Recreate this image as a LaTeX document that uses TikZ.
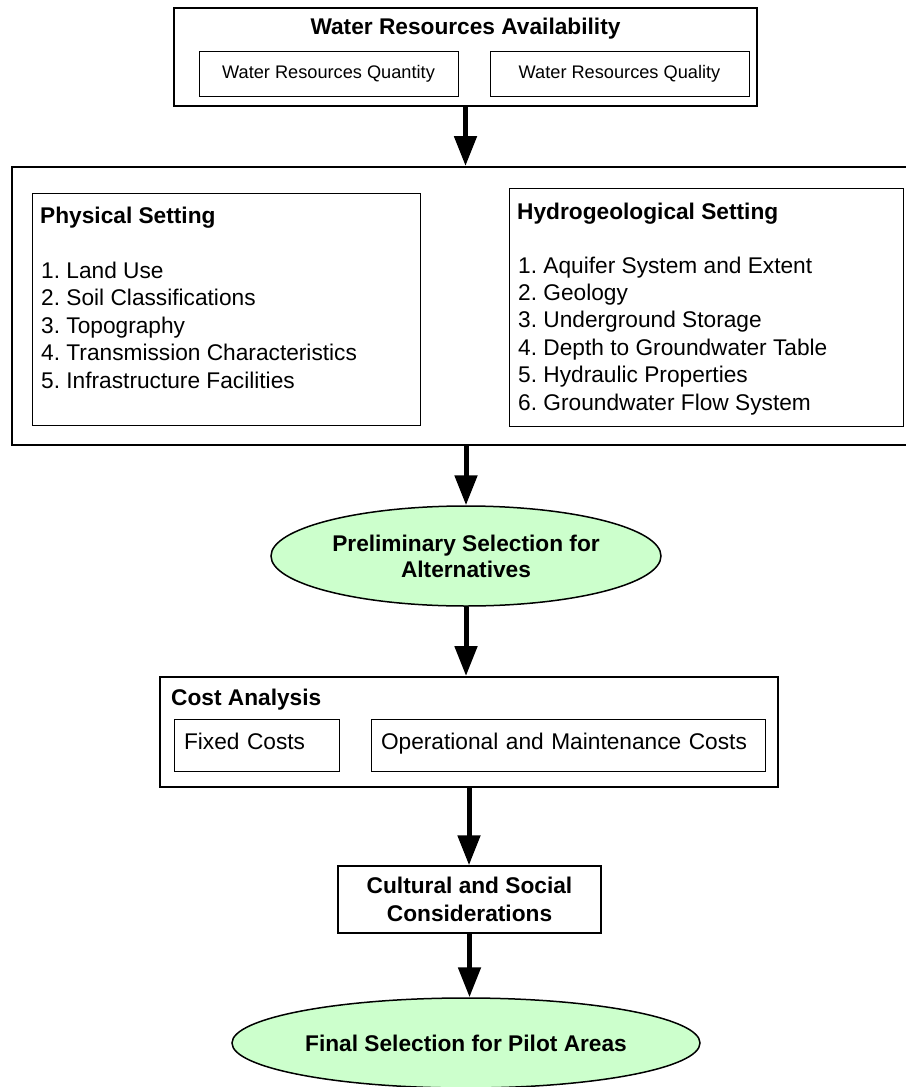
\documentclass[tikz,border=0pt]{standalone}
\usepackage{fontspec}
\setmainfont{Liberation Sans}
\usetikzlibrary{arrows.meta,shapes.geometric}

\definecolor{selgreen}{HTML}{CCFFCC}
\newcommand{\bigfont}{\fontsize{22.7pt}{27.5pt}\selectfont}
\newcommand{\smallfont}{\fontsize{18.2pt}{22pt}\selectfont}
\frenchspacing

\begin{document}
\begin{tikzpicture}[x=1pt, y=-1pt,
  every node/.style={font=\bigfont, inner sep=0pt},
  outerbox/.style={draw, line width=2pt},
  innerbox/.style={draw, line width=1pt},
  choice/.style={ellipse, draw, line width=1.5pt, fill=selgreen, align=center,
    font=\fontsize{22.7pt}{26pt}\selectfont\bfseries},
  head/.style={anchor=base west, font=\bigfont\bfseries},
  entry/.style={anchor=base west},
  costbox/.style={innerbox, minimum height=52pt, align=left, text height=18pt, text depth=10pt},
  flow/.style={line width=5pt, -{Triangle[length=30pt, width=22pt]}}]

\useasboundingbox (0,0) rectangle (905,1087);

% Water resources availability
\node[outerbox, minimum width=583pt, minimum height=98pt] (avail) at (465.5,57) {};
\node[font=\bigfont\bfseries] (availtitle) at (465.5,29) {Water Resources Availability};
\node[innerbox, minimum width=259pt, minimum height=45pt, font=\smallfont] (qty) at (328.5,73.5) {Water Resources Quantity};
\node[innerbox, minimum width=259pt, minimum height=45pt, font=\smallfont] (qual) at (619.5,73.5) {Water Resources Quality};

% Settings
\node[outerbox, minimum width=908pt, minimum height=278pt] (settings) at (466,306) {};
\node[innerbox, minimum width=388pt, minimum height=232pt] (phys) at (226,309) {};
\node[head] (physhead) at (40,223) {Physical Setting};
\foreach \entry [count=\i] in {Land Use, Soil Classifications, Topography,
    Transmission Characteristics, Infrastructure Facilities}
  \node[entry] (phys\i) at (41,{278+27.5*(\i-1)}) {\i. \entry};

\node[innerbox, minimum width=394pt, minimum height=238pt] (hyd) at (706,307) {};
\node[head] (hydhead) at (517,219) {Hydrogeological Setting};
\foreach \entry [count=\i] in {Aquifer System and Extent, Geology, Underground Storage,
    Depth to Groundwater Table, Hydraulic Properties, Groundwater Flow System}
  \node[entry] (hyd\i) at (518,{273+27.4*(\i-1)}) {\i. \entry};

% Preliminary selection
\node[choice, minimum width=390pt, minimum height=100pt] (prelim) at (466,556)
  {Preliminary Selection for\\Alternatives};

% Cost analysis
\node[outerbox, minimum width=618pt, minimum height=110pt] (cost) at (469,732) {};
\node[head] (costhead) at (171,705) {Cost Analysis};
\node[costbox, minimum width=165pt, text width=145pt] (fixed) at (256.5,745) {Fixed Costs};
\node[costbox, minimum width=394pt, text width=374pt] (om) at (568,745) {Operational and Maintenance Costs};

% Cultural and social
\node[draw, line width=1.5pt, minimum width=263pt, minimum height=67pt, align=center,
  font=\fontsize{22.7pt}{28pt}\selectfont\bfseries] (cultural) at (469.5,899.5)
  {Cultural and Social\\Considerations};

% Final selection
\node[choice, minimum width=468pt, minimum height=90pt] (final) at (466,1043)
  {Final Selection for Pilot Areas};

% Arrows
\draw[flow] (avail.south) -- (avail.south |- settings.north);
\draw[flow] (settings.south) -- (settings.south |- prelim.north);
\draw[flow] (prelim.south) -- (prelim.south |- cost.north);
\draw[flow] (cost.south) -- (cost.south |- cultural.north);
\draw[flow] (cultural.south) -- (cultural.south |- final.north);

\end{tikzpicture}
\end{document}
